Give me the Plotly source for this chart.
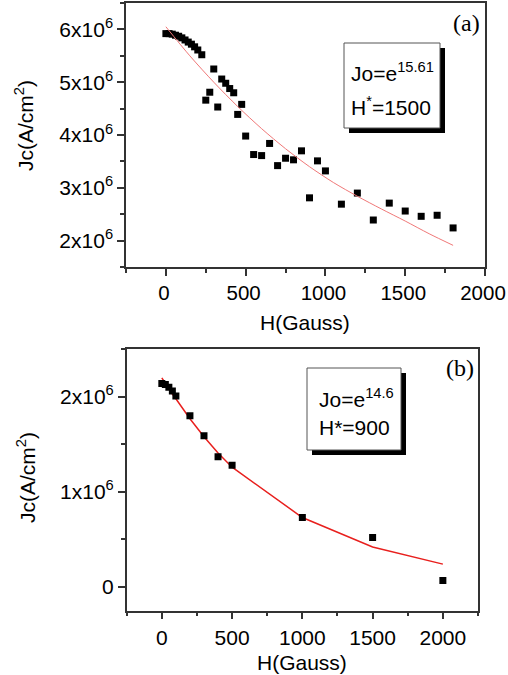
import plotly.graph_objects as go

# ---------------- data ----------------
# panel (a)
h_a = [0, 20, 40, 60, 80, 100, 120, 140, 160, 180, 200, 225, 250, 275, 300, 325, 350, 375,
       400, 425, 450, 475, 500, 550, 600, 650, 700, 750, 800, 850, 900, 950, 1000, 1100,
       1200, 1300, 1400, 1500, 1600, 1700, 1800]
jc_a = [5.92, 5.92, 5.91, 5.89, 5.87, 5.84, 5.80, 5.76, 5.72, 5.67, 5.61, 5.52, 4.66, 4.81,
        5.25, 4.53, 5.06, 4.98, 4.88, 4.80, 4.39, 4.58, 3.98, 3.63, 3.61, 3.84, 3.42, 3.56,
        3.53, 3.70, 2.81, 3.51, 3.32, 2.69, 2.90, 2.39, 2.71, 2.56, 2.46, 2.48, 2.24]
fit_h_a = [0, 150, 300, 450, 600, 750, 900, 1050, 1200, 1350, 1500, 1650, 1800]
fit_jc_a = [6.05, 5.50, 5.00, 4.54, 4.12, 3.74, 3.40, 3.10, 2.84, 2.60, 2.37, 2.13, 1.91]

# panel (b)
h_b = [0, 25, 50, 75, 100, 200, 300, 400, 500, 1000, 1500, 2000]
jc_b = [2.14, 2.13, 2.10, 2.06, 2.01, 1.80, 1.59, 1.37, 1.28, 0.73, 0.52, 0.067]
fit_h_b = [0, 25, 50, 75, 100, 200, 300, 400, 500, 1000, 1500, 2000]
fit_jc_b = [2.20, 2.14, 2.08, 2.03, 1.98, 1.77, 1.58, 1.41, 1.26, 0.73, 0.42, 0.24]

x_ticks = [0, 500, 1000, 1500, 2000]
x_tick_labels = ["0", "500", "1000", "1500", "2000"]
y_ticks_a = [2e6, 3e6, 4e6, 5e6, 6e6]
y_tick_labels_a = ["2x10<sup>6</sup>", "3x10<sup>6</sup>", "4x10<sup>6</sup>",
                   "5x10<sup>6</sup>", "6x10<sup>6</sup>"]
y_ticks_b = [0, 1e6, 2e6]
y_tick_labels_b = ["0", "1x10<sup>6</sup>", "2x10<sup>6</sup>"]

SCALE = 1e6
W, H = 508, 675
FONT = "Liberation Sans, Arial, sans-serif"
AX = "#333333"
FS = 21


def px(x):
    return x / W


def py(y):
    return 1 - y / H


fig = go.Figure()
fig.add_trace(go.Scatter(x=h_a, y=[v * SCALE for v in jc_a], mode="markers",
                         marker=dict(symbol="square", size=7, color="black"),
                         xaxis="x", yaxis="y", showlegend=False))
fig.add_trace(go.Scatter(x=fit_h_a, y=[v * SCALE for v in fit_jc_a], mode="lines",
                         line=dict(color="#f07878", width=1, shape="spline", smoothing=0.8),
                         xaxis="x", yaxis="y", showlegend=False))
fig.add_trace(go.Scatter(x=fit_h_b, y=[v * SCALE for v in fit_jc_b], mode="lines",
                         line=dict(color="#e8201e", width=1.5),
                         xaxis="x2", yaxis="y2", showlegend=False))
fig.add_trace(go.Scatter(x=h_b, y=[v * SCALE for v in jc_b], mode="markers",
                         marker=dict(symbol="square", size=7, color="black"),
                         xaxis="x2", yaxis="y2", showlegend=False))

common = dict(showline=True, linecolor=AX, linewidth=1.5, mirror=True, ticks="outside",
              ticklen=7, tickwidth=1.5, tickcolor=AX, showgrid=False, zeroline=False,
              tickfont=dict(family=FONT, size=FS, color="black"), tickmode="array",
              automargin=False, ticklabeloverflow="allow")

top_x = dict(common)
top_x["tickfont"] = dict(family=FONT, size=20.5, color="black")

fig.update_layout(
    width=W, height=H, margin=dict(l=0, r=0, t=0, b=0, autoexpand=False),
    paper_bgcolor="white", plot_bgcolor="white",
    xaxis=dict(domain=[px(126), px(485)], range=[-250, 2000], anchor="y",
               tickvals=x_ticks, ticktext=x_tick_labels, ticklabelshift=-2,
               minor=dict(tick0=0, dtick=250, ticklen=4, tickwidth=1.5, tickcolor=AX),
               **top_x),
    yaxis=dict(domain=[py(267), py(3)], range=[1.5e6, 6.5e6], anchor="x",
               tickvals=y_ticks_a, ticktext=y_tick_labels_a,
               minor=dict(tick0=0, dtick=5e5, ticklen=4, tickwidth=1.5, tickcolor=AX),
               **common),
    xaxis2=dict(domain=[px(126.7), px(478)], range=[-250, 2250], anchor="y2",
                tickvals=x_ticks, ticktext=x_tick_labels,
                minor=dict(tick0=0, dtick=250, ticklen=4, tickwidth=1.5, tickcolor=AX),
                **common),
    yaxis2=dict(domain=[py(610.7), py(349.3)], range=[-0.25e6, 2.5e6], anchor="x2",
                tickvals=y_ticks_b, ticktext=y_tick_labels_b,
                minor=dict(tick0=0, dtick=5e5, ticklen=4, tickwidth=1.5, tickcolor=AX),
                **common),
)

shapes = []
# legend boxes with drop shadow
for (x0, y0, x1, y1) in [(344, 43, 440, 128), (307, 368, 401, 450)]:
    shapes.append(dict(type="rect", xref="paper", yref="paper",
                       x0=px(x0 + 5), x1=px(x1 + 5), y0=py(y1 + 5), y1=py(y0 + 5),
                       fillcolor="black", line=dict(width=0)))
    shapes.append(dict(type="rect", xref="paper", yref="paper",
                       x0=px(x0), x1=px(x1), y0=py(y1), y1=py(y0),
                       fillcolor="white", line=dict(color="#555", width=1)))
fig.update_layout(shapes=shapes)

ann = []
tf = dict(family=FONT, size=FS, color="black")


def add_text(text, x, y, xanchor="left", angle=0, font=tf):
    ann.append(dict(text=text, x=px(x), y=py(y), xref="paper", yref="paper",
                    xanchor=xanchor, yanchor="middle", showarrow=False,
                    textangle=angle, font=font))


add_text("Jo=e<sup>15.61</sup>", 349, 72)
add_text("H<sup>*</sup>=1500", 349, 106)
add_text("Jo=e<sup>14.6</sup>", 317, 398)
add_text("H*=900", 317, 427)
serif = dict(family="Liberation Serif, Times New Roman, serif", size=24, color="black")
add_text("(a)", 466, 23, xanchor="center", font=serif)
add_text("(b)", 460, 368, xanchor="center", font=serif)
add_text("H(Gauss)", 305, 322, xanchor="center")
add_text("H(Gauss)", 302, 662, xanchor="center")
add_text("Jc(A/cm<sup>2</sup>)", 24, 126, xanchor="center", angle=-90)
add_text("Jc(A/cm<sup>2</sup>)", 26, 478, xanchor="center", angle=-90)
fig.update_layout(annotations=ann)

fig.write_html("out.html")
